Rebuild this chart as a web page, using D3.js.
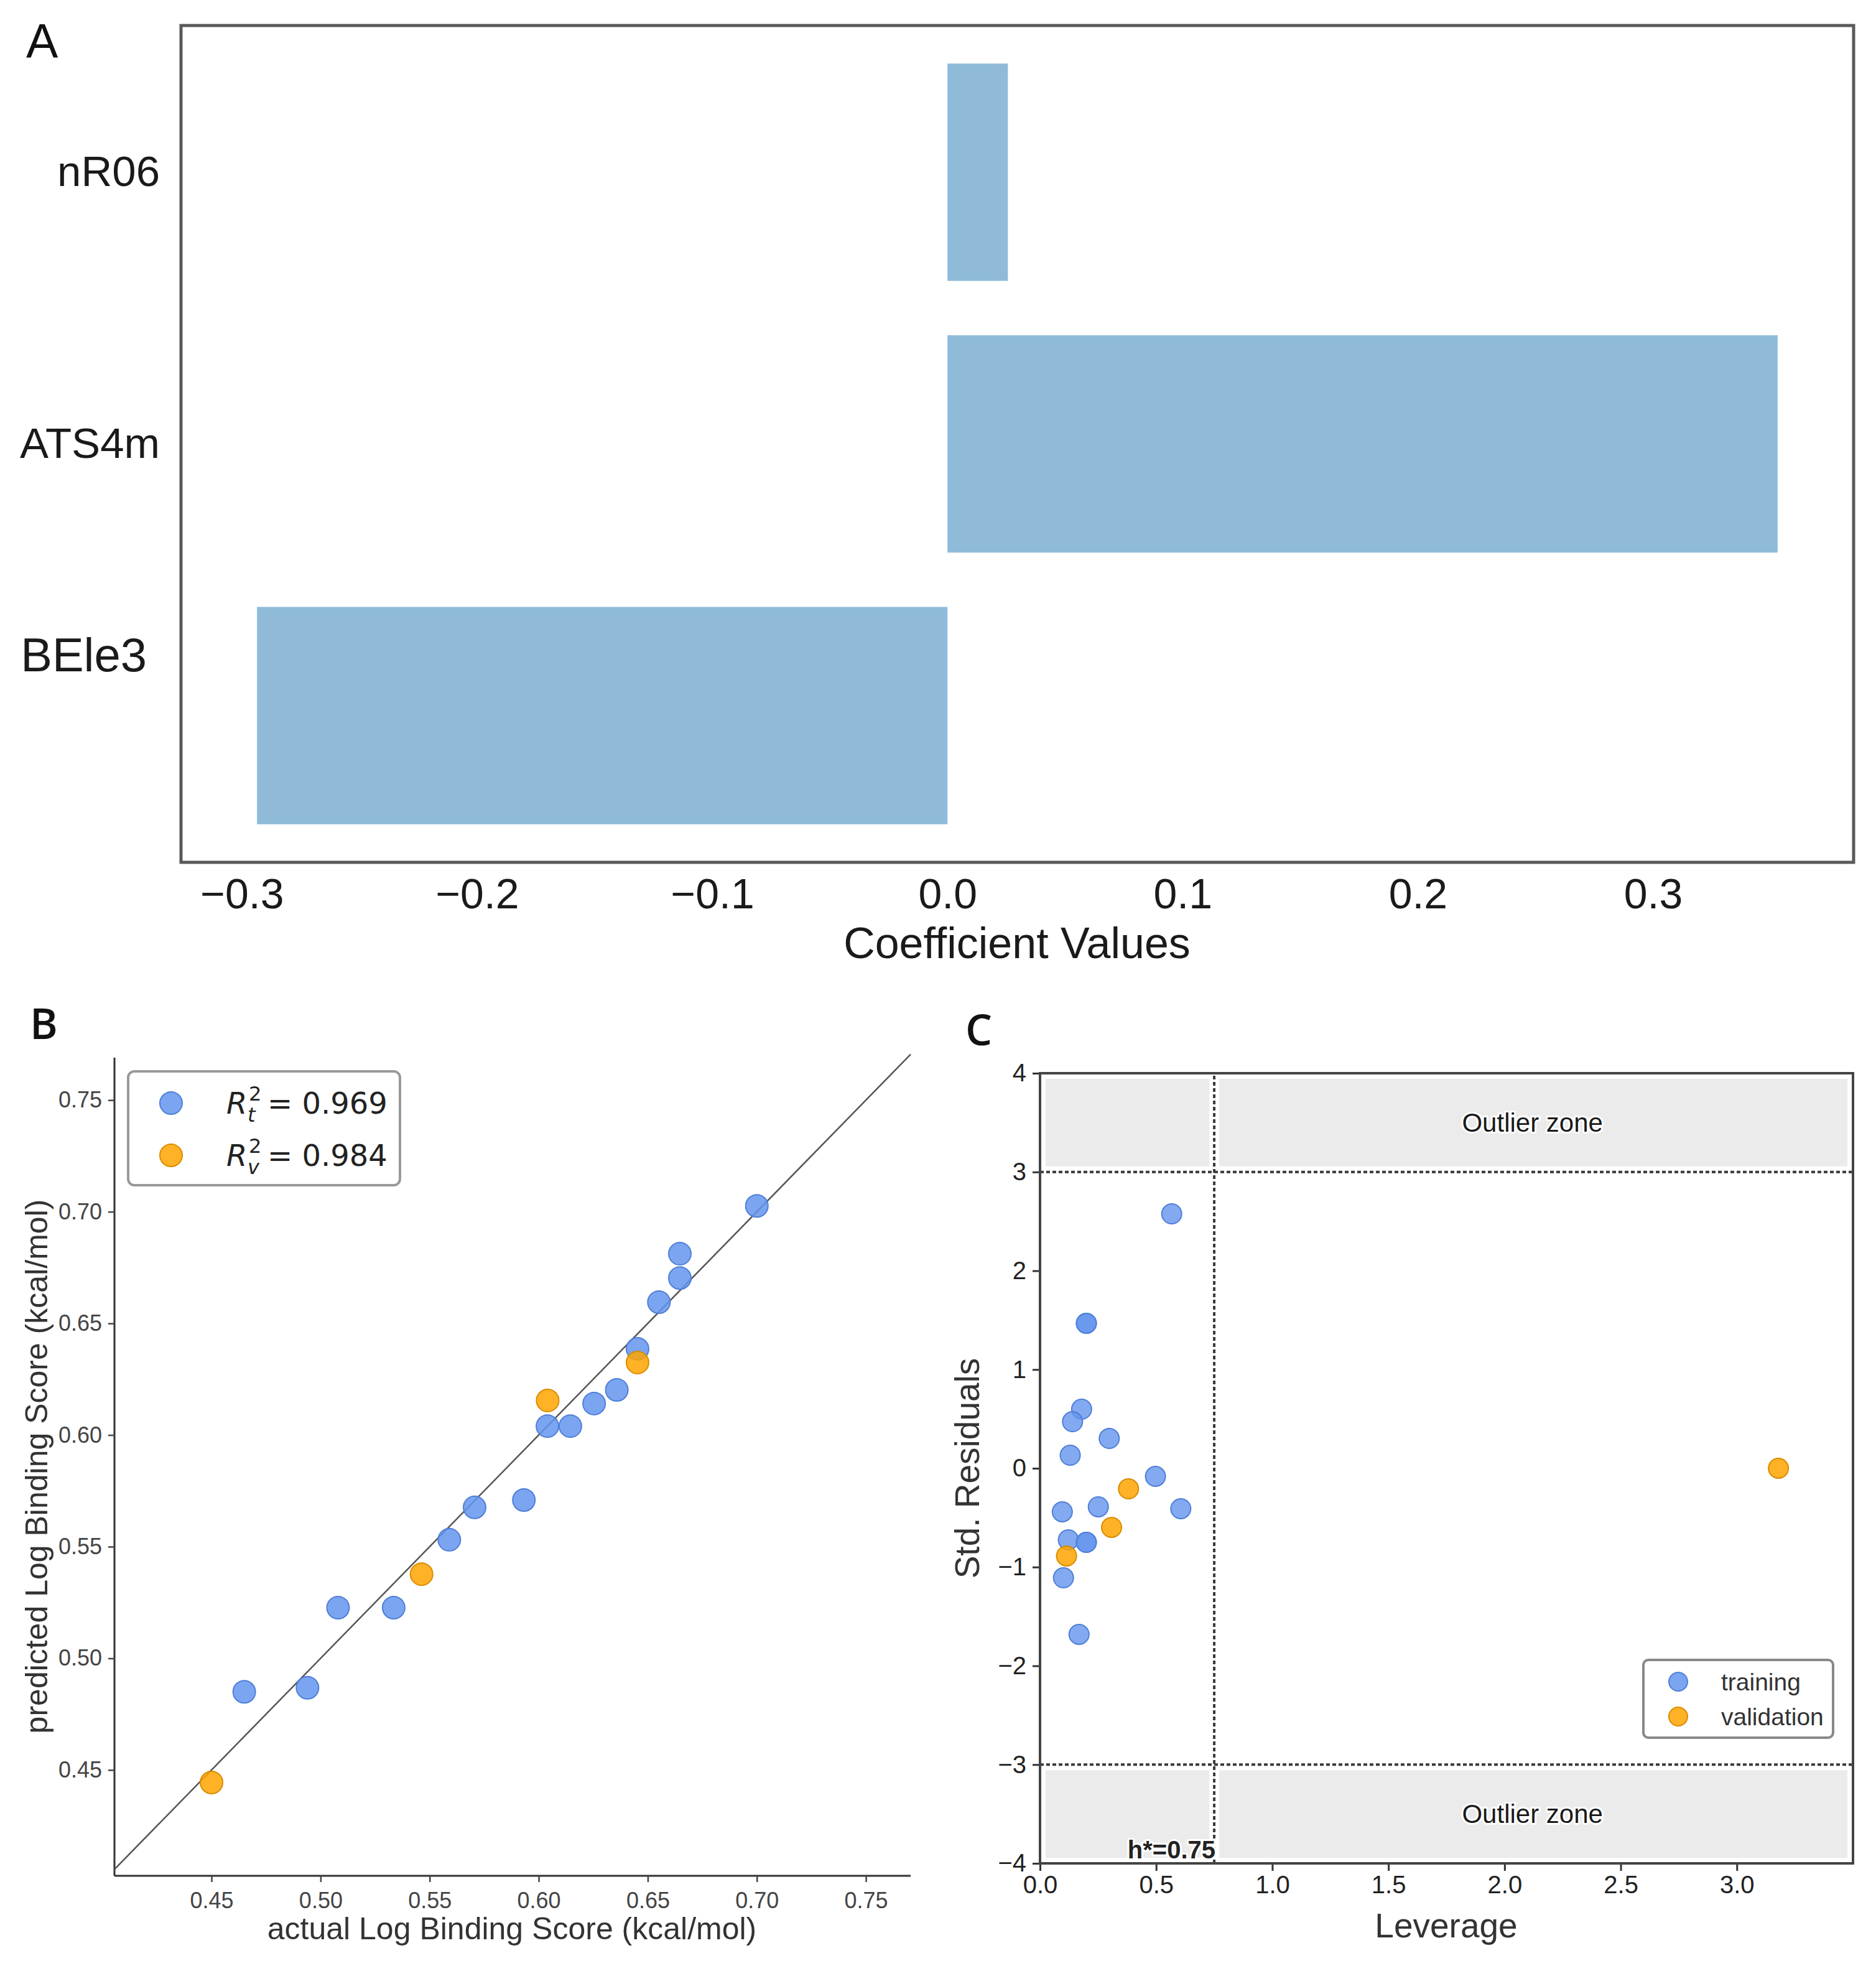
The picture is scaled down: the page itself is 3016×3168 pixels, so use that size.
<!DOCTYPE html>
<html>
<head>
<meta charset="utf-8">
<script src="https://cdn.jsdelivr.net/npm/d3@7"></script>
<style>
  body { margin: 0; background: #fff; }
  svg { display: block; }
</style>
</head>
<body>
<div id="chart"></div>
<script>
// ---- data ----
// panel A: model coefficients
const coefNames = ["BEle3", "ATS4m", "nR06"];
const coefValues = [-0.2936, 0.353, 0.0257];
const coefTicks = [-0.3, -0.2, -0.1, 0.0, 0.1, 0.2, 0.3];

// panel B: actual vs predicted
const trainActual = [0.465, 0.494, 0.508, 0.5335, 0.559, 0.5706, 0.5932, 0.604, 0.6145, 0.6254, 0.6358, 0.6453, 0.6551, 0.6647, 0.6647, 0.700];
const trainPred   = [0.485, 0.4868, 0.5227, 0.5227, 0.5531, 0.5676, 0.5709, 0.604, 0.604, 0.6141, 0.6202, 0.6386, 0.6595, 0.6703, 0.6812, 0.7026];
const valActual = [0.450, 0.5463, 0.6041, 0.6453];
const valPred   = [0.4444, 0.5377, 0.6155, 0.6325];
const scoreTicks = [0.45, 0.50, 0.55, 0.60, 0.65, 0.70, 0.75];
const r2Train = "0.969";
const r2Val = "0.984";

// panel C: Williams plot
const trainLev = [0.567, 0.1995, 0.1995, 0.179, 0.140, 0.130, 0.298, 0.497, 0.606, 0.251, 0.096, 0.122, 0.1995, 0.1995, 0.101, 0.168];
const trainRes = [2.576, 1.468, 1.468, 0.598, 0.472, 0.132, 0.302, -0.082, -0.409, -0.39, -0.441, -0.724, -0.75, -0.75, -1.109, -1.682];
const valLev = [0.114, 0.308, 0.381, 3.179];
const valRes = [-0.888, -0.598, -0.208, 0.0];
const levTicks = [0.0, 0.5, 1.0, 1.5, 2.0, 2.5, 3.0];
const resTicks = [-4, -3, -2, -1, 0, 1, 2, 3, 4];
const hStar = 0.75;
const resLimit = 3;
const zoneLabelX = 2.12;

const blue = "#6495ed", blueEdge = "#4f7fd8";
const orange = "#ffa500", orangeEdge = "#d98c00";
const sans = "Liberation Sans, Arial, sans-serif";

const svg = d3.select("#chart")
  .append("svg")
  .attr("width", 3016)
  .attr("height", 3168)
  .attr("font-family", sans);

svg.append("rect").attr("width", 3016).attr("height", 3168).attr("fill", "#fff");

// ================= panel A =================
const ax = d3.scaleLinear().domain([-0.3259, 0.3853]).range([291, 2980]);
const ay = d3.scaleLinear().domain([-0.54, 2.54]).range([1386, 41]);
const gA = svg.append("g");

gA.selectAll("rect.bar")
  .data(coefValues)
  .enter()
  .append("rect")
  .attr("class", "bar")
  .attr("x", d => ax(Math.min(0, d)))
  .attr("width", d => Math.abs(ax(d) - ax(0)))
  .attr("y", (d, i) => ay(i + 0.4))
  .attr("height", (d, i) => ay(i - 0.4) - ay(i + 0.4))
  .attr("fill", "#8fbbd9");

const axA = gA.append("g")
  .attr("transform", `translate(0,${1386})`)
  .call(d3.axisBottom(ax).tickValues(coefTicks).tickFormat(d3.format(".1f")).tickSize(0).tickPadding(26));
axA.select(".domain").remove();
axA.selectAll("text").attr("font-size", 68).attr("fill", "#1a1a1a").attr("font-family", sans);

const ayA = gA.append("g")
  .attr("transform", `translate(${291},0)`)
  .call(d3.axisLeft(ay).tickValues([0, 1, 2]).tickFormat(i => coefNames[i]).tickSize(0).tickPadding(34));
ayA.select(".domain").remove();
ayA.selectAll("text").attr("font-size", 69).attr("fill", "#1a1a1a").attr("font-family", sans);
// the BEle3 label sits higher and larger in the source figure
ayA.selectAll(".tick").filter(d => d === 0).select("text")
  .attr("font-size", 76).attr("x", -55).attr("dy", "-0.95em");

gA.append("rect")
  .attr("x", 291).attr("y", 41).attr("width", 2980 - 291).attr("height", 1386 - 41)
  .attr("fill", "none").attr("stroke", "#595959").attr("stroke-width", 5);

gA.append("text").attr("x", 1635).attr("y", 1540).attr("text-anchor", "middle")
  .attr("font-size", 70).attr("fill", "#1a1a1a").text("Coefficient Values");
gA.append("text").attr("x", 42).attr("y", 93).attr("font-size", 77).attr("fill", "#111").text("A");

// ================= panel B =================
const bx = d3.scaleLinear().domain([0.4055, 0.7705]).range([184, 1464]);
const by = d3.scaleLinear().domain([0.4026, 0.769]).range([3015, 1700]);
const gB = svg.append("g");

const bxAxis = gB.append("g")
  .attr("transform", `translate(0,${3015})`)
  .call(d3.axisBottom(bx).tickValues(scoreTicks).tickFormat(d3.format(".2f")).tickSize(10).tickPadding(10));
const byAxis = gB.append("g")
  .attr("transform", `translate(${184},0)`)
  .call(d3.axisLeft(by).tickValues(scoreTicks).tickFormat(d3.format(".2f")).tickSize(10).tickPadding(10));
[bxAxis, byAxis].forEach(a => {
  a.select(".domain").attr("stroke", "#333").attr("stroke-width", 3);
  a.selectAll(".tick line").attr("stroke", "#444").attr("stroke-width", 2.5);
  a.selectAll("text").attr("font-size", 36).attr("fill", "#444").attr("font-family", sans);
});
bxAxis.selectAll("text").attr("dy", "0.9em");
// plain spines without the outer tick stubs
bxAxis.select(".domain").attr("d", `M${184},0H${1464}`);
byAxis.select(".domain").attr("d", `M0,${3015}V${1700}`);

gB.append("line")
  .attr("x1", bx(0.4055)).attr("y1", by(0.4055))
  .attr("x2", bx(0.7705)).attr("y2", by(0.7705))
  .attr("stroke", "#555").attr("stroke-width", 2.5);

gB.selectAll("circle.train")
  .data(trainActual)
  .enter()
  .append("circle")
  .attr("class", "train")
  .attr("cx", d => bx(d))
  .attr("cy", (d, i) => by(trainPred[i]))
  .attr("r", 18)
  .attr("fill", blue).attr("fill-opacity", 0.85)
  .attr("stroke", blueEdge).attr("stroke-width", 2);

gB.selectAll("circle.val")
  .data(valActual)
  .enter()
  .append("circle")
  .attr("class", "val")
  .attr("cx", d => bx(d))
  .attr("cy", (d, i) => by(valPred[i]))
  .attr("r", 18)
  .attr("fill", orange).attr("fill-opacity", 0.85)
  .attr("stroke", orangeEdge).attr("stroke-width", 2);

gB.append("text").attr("x", 823).attr("y", 3117).attr("text-anchor", "middle")
  .attr("font-size", 50).attr("fill", "#333").text("actual Log Binding Score (kcal/mol)");
gB.append("text").attr("transform", `translate(59,${2357}) rotate(-90)`)
  .attr("text-anchor", "middle").attr("dominant-baseline", "central")
  .attr("font-size", 50).attr("fill", "#333").text("predicted Log Binding Score (kcal/mol)");
gB.append("text").attr("x", 48).attr("y", 1670).attr("font-size", 68).attr("font-weight", 600)
  .attr("font-family", "Open Sans, sans-serif").attr("fill", "#111").text("B");

// legend B
const legB = gB.append("g").attr("transform", "translate(206,1722)");
legB.append("rect").attr("width", 437).attr("height", 183).attr("rx", 10)
  .attr("fill", "#fff").attr("stroke", "#999").attr("stroke-width", 4);
[[blue, blueEdge, "t", r2Train], [orange, orangeEdge, "v", r2Val]].forEach((e, k) => {
  const cy = 51 + k * 84;
  legB.append("circle").attr("cx", 69).attr("cy", cy).attr("r", 18)
    .attr("fill", e[0]).attr("fill-opacity", 0.85).attr("stroke", e[1]).attr("stroke-width", 2);
  const t = legB.append("g").attr("font-family", "DejaVu Sans, sans-serif").attr("fill", "#222");
  t.append("text").attr("x", 158).attr("y", cy + 17).attr("font-size", 48).attr("font-style", "italic").text("R");
  t.append("text").attr("x", 194).attr("y", cy - 4).attr("font-size", 32).text("2");
  t.append("text").attr("x", 192).attr("y", cy + 30).attr("font-size", 32).attr("font-style", "italic").text(e[2]);
  t.append("text").attr("x", 224).attr("y", cy + 17).attr("font-size", 48).text("= " + e[3]);
});

// ================= panel C =================
const cx = d3.scaleLinear().domain([0, 3.5]).range([1672, 2979]);
const cy = d3.scaleLinear().domain([-4, 4]).range([2995, 1725]);
const gC = svg.append("g");

// outlier zones
[[resLimit, 4], [-4, -resLimit]].forEach(z => {
  gC.append("rect")
    .attr("x", cx(0)).attr("y", cy(z[1]))
    .attr("width", cx(3.5) - cx(0)).attr("height", cy(z[0]) - cy(z[1]))
    .attr("fill", "#ebebeb").attr("stroke", "#fff").attr("stroke-width", 18);
});

// white gaps under the dotted limits, then the dotted lines
const limits = [
  {x1: cx(hStar), x2: cx(hStar), y1: cy(-4), y2: cy(4)},
  {x1: cx(0), x2: cx(3.5), y1: cy(resLimit), y2: cy(resLimit)},
  {x1: cx(0), x2: cx(3.5), y1: cy(-resLimit), y2: cy(-resLimit)}
];
gC.selectAll("line.gap").data(limits).enter().append("line").attr("class", "gap")
  .attr("x1", d => d.x1).attr("x2", d => d.x2).attr("y1", d => d.y1).attr("y2", d => d.y2)
  .attr("stroke", "#fff").attr("stroke-width", 16);
gC.selectAll("line.lim").data(limits).enter().append("line").attr("class", "lim")
  .attr("x1", d => d.x1).attr("x2", d => d.x2).attr("y1", d => d.y1).attr("y2", d => d.y2)
  .attr("stroke", "#3a3a3a").attr("stroke-width", 4).attr("stroke-dasharray", "6,4");

gC.selectAll("circle.train")
  .data(trainLev)
  .enter()
  .append("circle")
  .attr("class", "train")
  .attr("cx", d => cx(d))
  .attr("cy", (d, i) => cy(trainRes[i]))
  .attr("r", 16)
  .attr("fill", blue).attr("fill-opacity", 0.8)
  .attr("stroke", blueEdge).attr("stroke-width", 2);

gC.selectAll("circle.val")
  .data(valLev)
  .enter()
  .append("circle")
  .attr("class", "val")
  .attr("cx", d => cx(d))
  .attr("cy", (d, i) => cy(valRes[i]))
  .attr("r", 16)
  .attr("fill", orange).attr("fill-opacity", 0.85)
  .attr("stroke", orangeEdge).attr("stroke-width", 2);

const halo = s => s.attr("stroke", "#fff").attr("stroke-width", 6).attr("paint-order", "stroke")
  .attr("stroke-linejoin", "round");

gC.append("text").attr("x", cx(zoneLabelX)).attr("y", cy(3.5)).attr("text-anchor", "middle")
  .attr("dominant-baseline", "central").attr("font-size", 42).attr("fill", "#1a1a1a")
  .text("Outlier zone").call(halo);
gC.append("text").attr("x", cx(zoneLabelX)).attr("y", cy(-3.5)).attr("text-anchor", "middle")
  .attr("dominant-baseline", "central").attr("font-size", 42).attr("fill", "#1a1a1a")
  .text("Outlier zone").call(halo);
gC.append("text").attr("x", cx(hStar) + 2).attr("y", cy(-4) - 8).attr("text-anchor", "end")
  .attr("font-size", 40).attr("font-weight", "bold").attr("fill", "#222")
  .text("h*=" + hStar).call(halo);

const cxAxis = gC.append("g")
  .attr("transform", `translate(0,${2995})`)
  .call(d3.axisBottom(cx).tickValues(levTicks).tickFormat(d3.format(".1f")).tickSize(12).tickPadding(8));
const cyAxis = gC.append("g")
  .attr("transform", `translate(${1672},0)`)
  .call(d3.axisLeft(cy).tickValues(resTicks).tickFormat(d3.format("d")).tickSize(12).tickPadding(10));
[cxAxis, cyAxis].forEach(a => {
  a.select(".domain").remove();
  a.selectAll(".tick line").attr("stroke", "#333").attr("stroke-width", 3);
  a.selectAll("text").attr("font-size", 40).attr("fill", "#222").attr("font-family", sans);
});

gC.append("rect")
  .attr("x", 1672).attr("y", 1725).attr("width", 2979 - 1672).attr("height", 2995 - 1725)
  .attr("fill", "none").attr("stroke", "#444").attr("stroke-width", 4);

gC.append("text").attr("x", 2325).attr("y", 3114).attr("text-anchor", "middle")
  .attr("font-size", 55).attr("fill", "#333").text("Leverage");
gC.append("text").attr("transform", `translate(1555,${2360}) rotate(-90)`)
  .attr("text-anchor", "middle").attr("dominant-baseline", "central")
  .attr("font-size", 55).attr("fill", "#333").text("Std. Residuals");
gC.append("text").attr("x", 1552).attr("y", 1680).attr("font-size", 68).attr("font-weight", 600)
  .attr("font-family", "Open Sans, sans-serif").attr("fill", "#111").text("C");

// legend C
const legC = gC.append("g").attr("transform", "translate(2642,2668)");
legC.append("rect").attr("width", 305).attr("height", 125).attr("rx", 8)
  .attr("fill", "#fff").attr("stroke", "#888").attr("stroke-width", 4);
[[blue, blueEdge, "training"], [orange, orangeEdge, "validation"]].forEach((e, k) => {
  const y = 35 + k * 56;
  legC.append("circle").attr("cx", 56).attr("cy", y).attr("r", 15)
    .attr("fill", e[0]).attr("fill-opacity", 0.85).attr("stroke", e[1]).attr("stroke-width", 2);
  legC.append("text").attr("x", 125).attr("y", y).attr("dominant-baseline", "central")
    .attr("font-size", 39).attr("fill", "#333").text(e[2]);
});
</script>
</body>
</html>
